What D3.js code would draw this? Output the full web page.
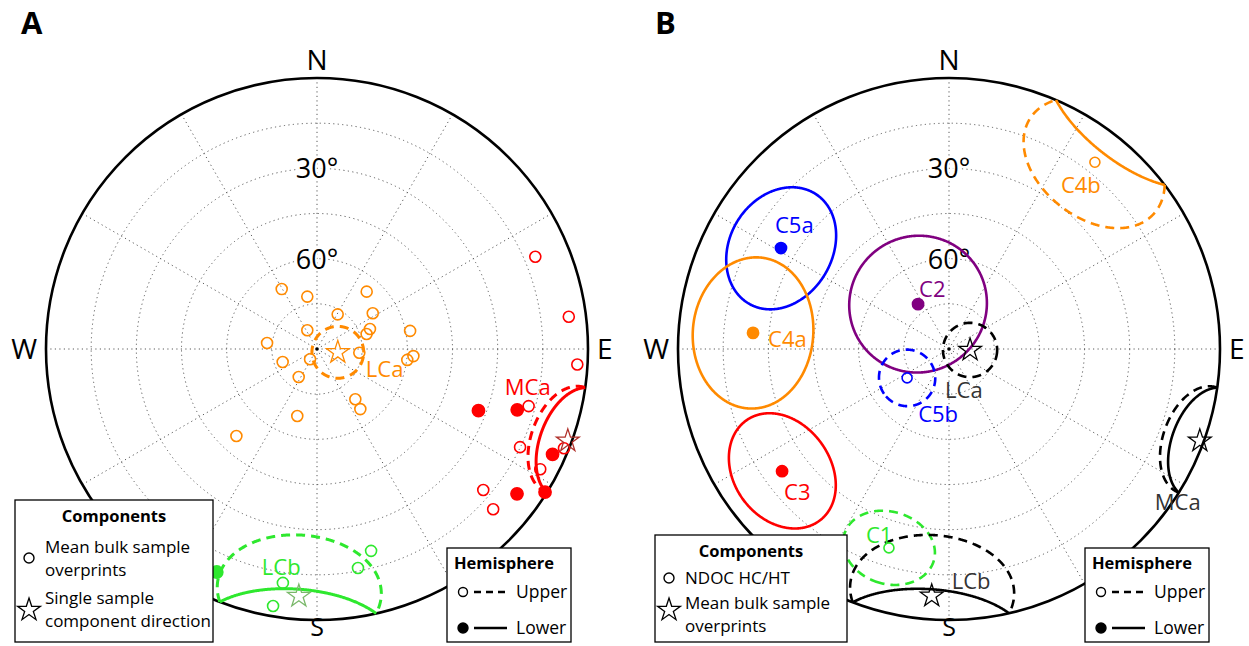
<!DOCTYPE html>
<html>
<head>
<meta charset="utf-8">
<script src="https://cdn.jsdelivr.net/npm/d3@7"></script>
<style>
body { margin: 0; background: #fff; }
text { font-family: "Open Sans", sans-serif; }
</style>
</head>
<body>
<svg id="chart" width="1249" height="646"></svg>
<script>
// directions are [declination, inclination]; negative inclination = upper hemisphere
var orangeA = [[329.5,-66.9],[349.5,-72.3],[40.9,-64.8],[30.8,-76.6],[57.3,-68.0],[332.6,-83.0],
    [69.3,-71.2],[73.2,-72.8],[79.0,-58.5],[276.8,-73.3],[94.2,-57.9],[96.9,-59.8],[249.2,-77.8],
    [214.2,-85.9],[213.2,-78.9],[142.7,-69.0],[144.2,-65.4],[196.4,-66.8],[222.8,-50.6],[95.0,-75.9]];
var redA = [[67.1,-11.3],[82.7,-5.7],[93.4,-3.4],[105.1,-17.2],[115.8,-15.1],[118.3,-5.8],
    [111.9,-1.6],[130.3,-17.6],[132.3,-10.9],
    [110.9,32.6],[106.9,20.5],[114.1,4.3],[125.9,8.0],[122.1,0.6]];
var greenA = [[165.0,-20.6],[169.4,-16.0],[188.3,-11.5],[189.7,-3.4],[204.2,8.8]];

// mean directions with a95 cones
var conesA = [
    {name: "LCa", dec: 99.1, inc: -83.0, a95: 8.6, star: [99.1,-83.0]},
    {name: "MCa", dec: 110.1, inc: -1.5, a95: 12, star: [110.1,-1.3]},
    {name: "LCb", dec: 184.2, inc: -9.0, a95: 19, star: [184.2,-7.7]}
];
var conesB = [
    {name: "C2", dec: 325.4, inc: 71.9, a95: 22.6},
    {name: "C5a", dec: 301.0, inc: 24.9, a95: 17},
    {name: "C4a", dec: 274.7, inc: 24.7, a95: 20},
    {name: "C3", dec: 233.8, inc: 21.3, a95: 16},
    {name: "C4b", dec: 38.0, inc: -11.3, a95: 18.5},
    {name: "C5b", dec: 235.4, inc: -73.1, a95: 9.3},
    {name: "C1", dec: 196.8, inc: -21.0, a95: 12},
    {name: "LCa", dec: 92.7, inc: -83.0, a95: 9, star: true},
    {name: "MCa", dec: 110.1, inc: -1.5, a95: 12, star: true, starInc: -1.3},
    {name: "LCb", dec: 184.0, inc: -9.0, a95: 19, star: true, starInc: -7.8}
];

var ringIncs = [15, 30, 45, 60, 75];
var ringLabels = [30, 60];
var spokeDecs = d3.range(0, 360, 30);

var colA = {LCa: "#ff8a00", MCa: "#ff0000", LCb: "#2ee82e"};
var starColA = {LCa: "#ff8a00", MCa: "#b0302a", LCb: "#7ab86a"};
var colB = {C2: "#800080", C5a: "#0000ff", C4a: "#ff8a00", C3: "#ff0000", C4b: "#ff8a00",
    C5b: "#0000ff", C1: "#2ee82e", LCa: "#000", MCa: "#000", LCb: "#000"};
var labColB = {LCa: "#333", MCa: "#333", LCb: "#333"};
// label offsets from the mean position
var offA = {LCa: [28, 25], MCa: [-63, -46], LCb: [-37, -21]};
var offB = {C2: [1, -7], C5a: [-6, -15], C4a: [15, 14], C3: [2, 29], C4b: [-34, 31],
    C5b: [11, 44], C1: [-23, -5], LCa: [-25, 48], MCa: [-45, 69], LCb: [20, -7]};

var R = 271;
var rad = Math.PI / 180;
var rScale = d3.scaleLinear().domain([90, 0]).range([0, R]);
var svg = d3.select("#chart");

function project(dec, inc) {
    var r = rScale(Math.abs(inc));
    return [r * Math.sin(dec * rad), -r * Math.cos(dec * rad)];
}

// points on a small circle round a mean, split by hemisphere
function coneRuns(c) {
    var d = c.dec * rad, i = c.inc * rad, a = c.a95 * rad;
    var m = [Math.cos(i) * Math.cos(d), Math.cos(i) * Math.sin(d), Math.sin(i)];
    var u = [-Math.sin(i) * Math.cos(d), -Math.sin(i) * Math.sin(d), Math.cos(i)];
    var v = [-Math.sin(d), Math.cos(d), 0];
    var n = 720;
    var pts = d3.range(n).map(function(k) {
        var t = k / n * 2 * Math.PI;
        return [0, 1, 2].map(function(j) {
            return Math.cos(a) * m[j] + Math.sin(a) * (Math.cos(t) * u[j] + Math.sin(t) * v[j]);
        });
    });
    function toXY(p) {
        var inc = Math.asin(Math.max(-1, Math.min(1, p[2]))) / rad;
        var dec = Math.atan2(p[1], p[0]) / rad;
        return project(dec, inc);
    }
    var start = -1;
    for (var k = 0; k < n; k++) {
        if ((pts[k][2] >= 0) !== (pts[(k + n - 1) % n][2] >= 0)) { start = k; break; }
    }
    if (start < 0) {
        var all = pts.map(toXY);
        all.push(all[0]);
        return [{lower: pts[0][2] >= 0, xy: all}];
    }
    var seq = pts.slice(start).concat(pts.slice(0, start));
    seq.push(seq[0]);
    var runs = [], cur = {lower: seq[0][2] >= 0, xy: []};
    var p0 = pts[(start + n - 1) % n], p1 = seq[0];
    function edge(pa, pb) {
        var f = pa[2] / (pa[2] - pb[2]);
        var p = [0, 1, 2].map(function(j) { return pa[j] + (pb[j] - pa[j]) * f; });
        return project(Math.atan2(p[1], p[0]) / rad, 0);
    }
    cur.xy.push(edge(p0, p1));
    for (k = 0; k < seq.length; k++) {
        var low = seq[k][2] >= 0;
        if (low !== cur.lower) {
            var e = edge(seq[k - 1], seq[k]);
            cur.xy.push(e);
            runs.push(cur);
            cur = {lower: low, xy: [e]};
        }
        if (k < seq.length - 1) cur.xy.push(toXY(seq[k]));
    }
    if (cur.xy.length > 1) runs.push(cur);
    return runs;
}

var line = d3.line();

function drawNet(g) {
    g.selectAll(".ring").data(ringIncs).enter().append("circle")
        .attr("r", function(d) { return rScale(d); })
        .attr("fill", "none").attr("stroke", "#5a5a5a").attr("stroke-width", 1)
        .attr("stroke-dasharray", "1.2,3.3");
    g.selectAll(".spoke").data(spokeDecs).enter().append("line")
        .attr("x1", 0).attr("y1", 0)
        .attr("x2", function(d) { return project(d, 0)[0]; })
        .attr("y2", function(d) { return project(d, 0)[1]; })
        .attr("stroke", "#5a5a5a").attr("stroke-width", 1)
        .attr("stroke-dasharray", "1.2,3.3");
    g.append("circle").attr("r", R).attr("fill", "none")
        .attr("stroke", "#000").attr("stroke-width", 2.6);
    g.append("circle").attr("r", 1.8).attr("fill", "#000");
    g.selectAll(".rlab").data(ringLabels).enter().append("text")
        .attr("x", 0).attr("y", function(d) { return -rScale(d) + 10; })
        .attr("text-anchor", "middle").attr("font-size", 27)
        .attr("stroke", "#fff").attr("stroke-width", 4).attr("paint-order", "stroke")
        .text(function(d) { return d + "°"; });
    var dirs = [["N", 0, -R - 8, "middle"], ["S", 0, R + 16, "middle"],
        ["E", R + 9, 10, "start"], ["W", -R - 9, 10, "end"]];
    g.selectAll(".dir").data(dirs).enter().append("text")
        .attr("x", function(d) { return d[1]; }).attr("y", function(d) { return d[2]; })
        .attr("text-anchor", function(d) { return d[3]; })
        .attr("font-size", function(d) { return d[0] === "S" ? 25 : 28; })
        .text(function(d) { return d[0]; });
}

function drawCone(g, c, color, width) {
    coneRuns(c).forEach(function(run) {
        g.append("path").attr("d", line(run.xy)).attr("fill", "none")
            .attr("stroke", color).attr("stroke-width", width)
            .attr("stroke-dasharray", run.lower ? null : "9,6");
    });
}

function drawDots(g, data, color, r) {
    g.selectAll(null).data(data).enter().append("circle")
        .attr("cx", function(d) { return project(d[0], d[1])[0]; })
        .attr("cy", function(d) { return project(d[0], d[1])[1]; })
        .attr("r", function(d) { return d[1] < 0 ? r : r + 0.6; })
        .attr("fill", function(d) { return d[1] < 0 ? "none" : color; })
        .attr("stroke", color).attr("stroke-width", 1.6);
}

var star = d3.symbol().type(d3.symbolStar).size(160);
function drawStar(g, d, color) {
    var p = project(d[0], d[1]);
    g.append("path").attr("d", star).attr("transform", "translate(" + p[0] + "," + p[1] + ")")
        .attr("fill", "none").attr("stroke", color).attr("stroke-width", 1.3);
}

function drawLabel(g, c, off, color) {
    var p = project(c.dec, c.star ? (c.starInc || c.inc) : c.inc);
    if (Array.isArray(c.star)) p = project(c.star[0], c.star[1]);
    g.append("text").attr("x", p[0] + off[0]).attr("y", p[1] + off[1])
        .attr("font-size", 22).attr("fill", color).text(c.name);
}

function drawLegends(svg, x0, compItems, x1) {
    var lg = svg.append("g").attr("transform", "translate(" + x0 + ",0)");
    var w = compItems.width;
    lg.append("rect").attr("x", 0).attr("y", compItems.top).attr("width", w)
        .attr("height", 642 - compItems.top).attr("fill", "#fff").attr("stroke", "#000").attr("stroke-width", 1.3);
    lg.append("text").attr("x", w / 2).attr("y", compItems.top + 22).attr("text-anchor", "middle")
        .attr("font-size", 16.5).attr("font-weight", "bold").text("Components");
    compItems.rows.forEach(function(row) {
        if (row.sym === "o") {
            lg.append("circle").attr("cx", 14).attr("cy", row.sy).attr("r", 5)
                .attr("fill", "none").attr("stroke", "#000").attr("stroke-width", 1.4);
        } else {
            lg.append("path").attr("d", star).attr("transform", "translate(14," + row.sy + ")")
                .attr("fill", "none").attr("stroke", "#000").attr("stroke-width", 1.3);
        }
        row.lines.forEach(function(t, k) {
            lg.append("text").attr("x", 30).attr("y", row.ty + k * 23)
                .attr("font-size", 17).text(t);
        });
    });
    var hg = svg.append("g").attr("transform", "translate(" + x1 + ",548)");
    hg.append("rect").attr("width", 124).attr("height", 94).attr("fill", "#fff")
        .attr("stroke", "#000").attr("stroke-width", 1.3);
    hg.append("text").attr("x", 7).attr("y", 21).attr("font-size", 16.5).attr("font-weight", "bold")
        .text("Hemisphere");
    [["Upper", 44, true], ["Lower", 80, false]].forEach(function(h) {
        hg.append("circle").attr("cx", 16).attr("cy", h[1]).attr("r", h[2] ? 4.5 : 5)
            .attr("fill", h[2] ? "#fff" : "#000").attr("stroke", "#000").attr("stroke-width", 1.4);
        hg.append("line").attr("x1", 27).attr("x2", 60).attr("y1", h[1]).attr("y2", h[1])
            .attr("stroke", "#000").attr("stroke-width", 2.4)
            .attr("stroke-dasharray", h[2] ? "7,5" : null);
        hg.append("text").attr("x", 69).attr("y", h[1] + 6).attr("font-size", 17.5).text(h[0]);
    });
}

// Panel A
var gA = svg.append("g").attr("transform", "translate(317,349)");
drawNet(gA);
conesA.forEach(function(c) { drawCone(gA, c, colA[c.name], 3); });
drawDots(gA, orangeA, colA.LCa, 5.5);
drawDots(gA, redA, colA.MCa, 5.5);
drawDots(gA, greenA, colA.LCb, 5.5);
conesA.forEach(function(c) { drawStar(gA, c.star, starColA[c.name]); });
conesA.forEach(function(c) { drawLabel(gA, c, offA[c.name], colA[c.name]); });

// Panel B
var gB = svg.append("g").attr("transform", "translate(949,349)");
drawNet(gB);
conesB.forEach(function(c) { drawCone(gB, c, colB[c.name], 2.6); });
conesB.forEach(function(c) {
    if (c.star) drawStar(gB, [c.dec, c.starInc || c.inc], "#000");
    else drawDots(gB, [[c.dec, c.inc]], colB[c.name], 5);
});
conesB.forEach(function(c) { drawLabel(gB, c, offB[c.name], labColB[c.name] || colB[c.name]); });

drawLegends(svg, 15, {top: 500, width: 198, rows: [
    {sym: "o", sy: 558, ty: 553, lines: ["Mean bulk sample", "overprints"]},
    {sym: "s", sy: 610, ty: 604, lines: ["Single sample", "component direction"]}]}, 447);
drawLegends(svg, 655, {top: 535, width: 192, rows: [
    {sym: "o", sy: 578, ty: 584, lines: ["NDOC HC/HT"]},
    {sym: "s", sy: 610, ty: 609, lines: ["Mean bulk sample", "overprints"]}]}, 1085);

svg.append("text").attr("x", 21).attr("y", 34).attr("font-size", 31).attr("font-weight", "bold").text("A");
svg.append("text").attr("x", 655).attr("y", 34).attr("font-size", 31).attr("font-weight", "bold").text("B");
</script>
</body>
</html>
